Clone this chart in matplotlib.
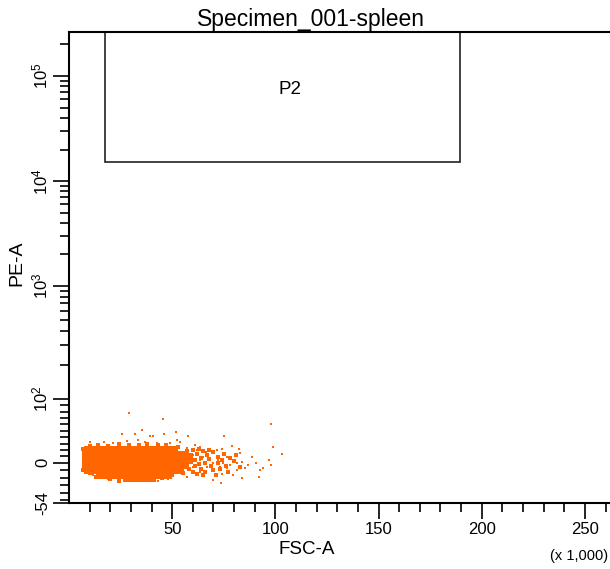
import numpy as np
import matplotlib.pyplot as plt
from matplotlib.patches import Rectangle

plt.rcParams['font.family'] = ['Liberation Sans', 'DejaVu Sans']
plt.rcParams['mathtext.fontset'] = 'custom'
plt.rcParams['mathtext.rm'] = 'Liberation Sans'
plt.rcParams['mathtext.it'] = 'Liberation Sans:italic'

# dense core of the population (FSC-A in thousands, PE-A)
core_x = [9, 12, 15, 18, 21, 24, 27, 30, 33, 36, 39, 42, 45, 48, 51,
          8, 11, 14, 17, 20, 23, 26, 29, 32, 35, 38, 41, 44, 47, 50, 53, 56,
          8, 11, 14, 17, 20, 23, 26, 29, 32, 35, 38, 41, 44, 47, 50, 53, 56, 58,
          8, 11, 14, 17, 20, 23, 26, 29, 32, 35, 38, 41, 44, 47, 50, 53, 56,
          9, 12, 15, 18, 21, 24, 27, 30, 33, 36, 39, 42, 45, 48, 51, 54,
          15, 18, 21, 24, 27, 30, 33, 36, 39, 42, 45, 48,
          28, 31, 34, 37, 40]
core_y = [20] * 15 + [12] * 17 + [4] * 18 + [-3] * 17 + [-10] * 16 + [-16.5] * 12 + [-20] * 5

# patchy tail and ragged edges of the population
fringe_x = [57, 59, 58, 60, 61, 60, 62, 63, 62, 64, 65, 64, 66, 67, 66, 68, 69, 70,
            70, 72, 72, 73, 75, 74, 76, 78, 77, 80, 81, 83, 58, 61, 63, 65, 68, 71,
            7, 10, 14, 19, 24, 29, 34, 38, 43, 47, 53,
            7, 10, 13, 20, 24, 45, 50, 55]
fringe_y = [18, 12, -8, 20, 4, -12, 14, -2, -15, 8, 18, -8, 0, 12, -13, 5, -5, 16,
            -10, 9, 0, -8, 14, 4, -4, 8, -12, 2, 12, -6, 2, -5, 22, -16, 20, -16,
            22, 26, 28, 26, 29, 27, 28, 30, 27, 28, 24,
            -10, -14, -19, -22, -24, -20, -17, -14]

# single scattered events
sparse_x = [29.1, 45.4, 97.9, 35.5, 25.5, 31.8, 39.3, 40.9, 46.2, 51.7, 57.5,
            75.3, 98.7, 103.4, 10.2, 17.1, 21.4, 27.9, 33.5, 42.5, 48.9, 53.8,
            61.1, 63.5, 66.4, 69.2, 71.6, 74.0, 78.9, 82.4, 82.9, 76.4, 79.6,
            81.3, 83.9, 88.6, 90.6, 92.6, 94.2, 97.1, 97.9, 83.7, 79.6, 74.0,
            70.0, 73.5, 92.3, 57.0, 48.1, 43.3, 34.4, 29.6, 19.0, 11.8, 9.4,
            63.5, 66.7, 70.0, 73.2, 76.4, 63.5, 60.3, 65.1, 68.3, 72.4, 74.8,
            78.0, 60.3, 59.5, 61.9, 57.0, 54.6, 85.3, 86.9, 81.3, 52.2, 36.8]
sparse_y = [77.6, 68.6, 60, 51, 45, 45, 42, 42, 45.5, 47.7, 42,
            42, 24, 13, 33, 33, 31, 34.5, 35.6, 30.5, 30.5, 33,
            27.8, 25, 17, 14.7, 20, 21.5, 26.7, 21.5, 14.7, 9.4, 4.2,
            -0.8, 0.6, 8.5, -0.8, -9.9, -7.6, 4.2, -3.1, -21, -16.6, -15.3,
            -23.4, -27, -18.9, -18.9, -22, -24.3, -24.7, -23.4, -22.4, -16.6, -9.9,
            -12.2, -5.4, -0.8, -5.4, -7.6, 4.2, 12, 9.4, 6.9, 4.2, -0.8,
            -3.1, -5.4, 1.6, 20, 22.6, 14.7, -7.6, -3.1, -9.9, 35.6, 33]

# gate P2
gate_x = [17.4, 189.5]
gate_y = [15400, 262144]

# biexponential-like PE-A axis
anchor_val = np.array([-1000, -54, 0, 100, 1000, 1e4, 1e5, 262144, 1e7])
anchor_pos = np.array([-700, 0, 40.3, 104, 217, 321.3, 426.3, 470.3, 636.3])


def lin_log(y):
    y = np.asarray(y, dtype=float)
    return np.where(y <= 100, y / 100.0, 1 + np.log10(np.maximum(y, 100) / 100.0))


def lin_log_inv(t):
    t = np.asarray(t, dtype=float)
    return np.where(t <= 1, t * 100.0, 100.0 * 10 ** (np.maximum(t, 1) - 1))


anchor_s = lin_log(anchor_val)


def fwd(y):
    return np.interp(lin_log(y), anchor_s, anchor_pos)


def inv(u):
    return lin_log_inv(np.interp(np.asarray(u, dtype=float), anchor_pos, anchor_s))


fig = plt.figure(figsize=(6.1, 5.69), dpi=100)
ax = fig.add_axes([69 / 610, 66 / 569, 541 / 610, 471 / 569])
ax.set_yscale('function', functions=(fwd, inv))
ax.set_xlim(0, 262.144)
ax.set_ylim(-54, 262144)

orange = '#FF6600'
ax.scatter(core_x, core_y, s=33, marker='s', color=orange, linewidths=0)
ax.scatter(fringe_x, fringe_y, s=11, marker='s', color=orange, linewidths=0)
ax.scatter(sparse_x, sparse_y, s=3.2, marker='s', color=orange, linewidths=0)

ax.add_patch(Rectangle((gate_x[0], gate_y[0]), gate_x[1] - gate_x[0], gate_y[1] - gate_y[0],
                       fill=False, edgecolor='#222222', linewidth=1.2, clip_on=False))
ax.text(107, 74700, 'P2', ha='center', va='center', fontsize=13.5)

# ticks
ax.set_xticks([50, 100, 150, 200, 250])
ax.set_xticklabels(['50', '100', '150', '200', '250'], fontsize=12)
ax.set_xticks([v for v in range(10, 270, 10) if v % 50 != 0], minor=True)

ax.set_yticks([-54, 0, 100, 1000, 10000, 100000])
ax.set_yticklabels(['-54', '0', '$10^2$', '$10^3$', '$10^4$', '$10^5$'], fontsize=12,
                   rotation=90, va='center')
ymin = [-50, -40, -30, -20, -10, 10, 20, 30, 40, 50, 60, 70, 80, 90]
for dec in [100, 1000, 10000]:
    ymin += [dec * k for k in range(2, 10)]
ymin += [200000]
ax.set_yticks(ymin, minor=True)
ax.tick_params(which='major', direction='out', length=11.5, width=1.2, pad=2)
ax.tick_params(which='minor', direction='out', length=6.5, width=1.2)

for side in ['left', 'bottom', 'top']:
    ax.spines[side].set_linewidth(1.5)
ax.spines['right'].set_visible(False)

fig.text(17 / 610, 1 - 263 / 569, 'PE-A', rotation=90, ha='center', va='center', fontsize=14)
fig.text(307 / 610, 1 - 549 / 569, 'FSC-A', ha='center', va='center', fontsize=13.5)
fig.text(311 / 610, 1 - 26 / 569, 'Specimen_001-spleen', ha='center', va='baseline', fontsize=16.5)
fig.text(608 / 610, 1 - 556 / 569, '(x 1,000)', ha='right', va='center', fontsize=10.5)

fig.savefig('out.png', dpi=100)
